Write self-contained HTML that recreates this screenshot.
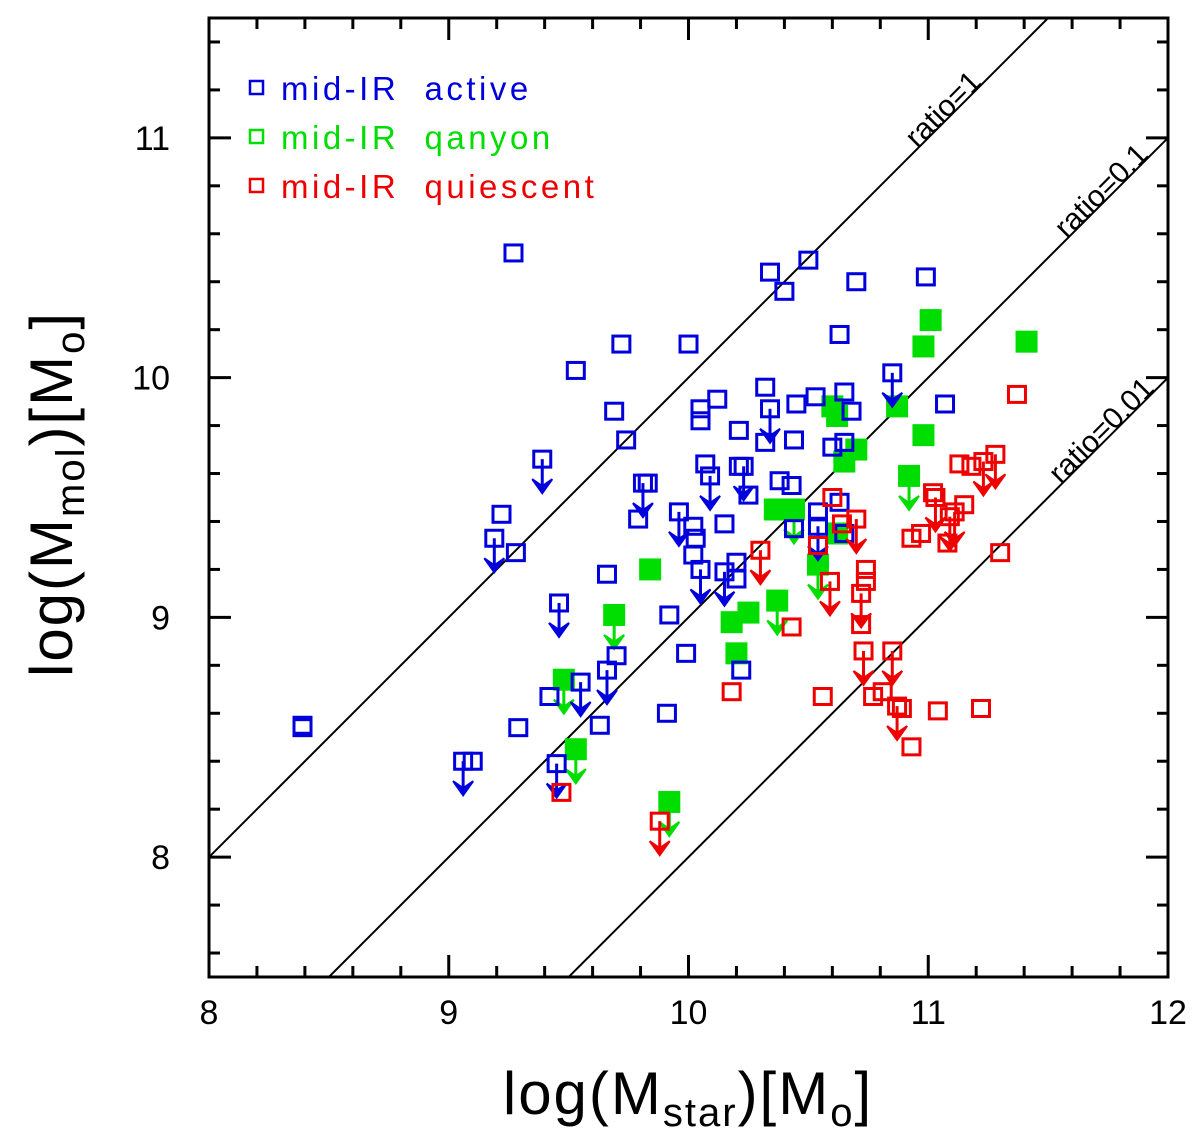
<!DOCTYPE html>
<html><head><meta charset="utf-8"><style>
html,body{margin:0;padding:0;background:#fff;overflow:hidden;width:1200px;height:1140px;}
svg{display:block;font-family:"Liberation Sans","DejaVu Sans",sans-serif;}
</style></head><body>
<svg id="chart" width="1200" height="1140" viewBox="0 0 1200 1140" xmlns="http://www.w3.org/2000/svg"></svg>
<script>
// ---- data (log M_star, log M_mol, upper-limit flag) ----
const activeX = [8.39,9.27,9.72,10.00,9.53,9.69,9.74,9.39,9.22,9.19,9.28,10.12,10.05,10.05,9.81,9.83,9.79,10.07,10.09,9.96,10.02,10.03,10.15,10.02,10.05,10.15,10.20,9.66,9.46,9.92,9.70,9.66,9.99,9.55,9.42,9.29,9.63,9.91,8.39,9.06,9.10,9.45,10.21,10.21,10.22,10.50,10.34,10.40,10.70,10.99,10.63,10.85,11.07,10.32,10.34,10.45,10.53,10.65,10.68,10.32,10.44,10.65,10.60,10.23,10.25,10.38,10.43,10.63,10.54,10.54,10.44,10.65,10.20];
const activeY = [8.55,10.52,10.14,10.14,10.03,9.86,9.74,9.66,9.43,9.33,9.27,9.91,9.87,9.82,9.56,9.56,9.41,9.64,9.59,9.44,9.38,9.33,9.39,9.26,9.20,9.19,9.23,9.18,9.06,9.01,8.84,8.78,8.85,8.73,8.67,8.54,8.55,8.60,8.54,8.40,8.40,8.39,9.78,9.63,8.78,10.49,10.44,10.36,10.40,10.42,10.18,10.02,9.89,9.96,9.87,9.89,9.92,9.94,9.86,9.73,9.74,9.73,9.71,9.63,9.51,9.57,9.55,9.48,9.44,9.38,9.37,9.35,9.16];
const activeLim = [0,0,0,0,0,0,0,1,0,1,0,0,0,0,1,0,0,0,1,1,0,0,0,0,1,1,0,0,1,0,0,1,0,1,0,0,0,0,0,1,0,1,0,0,0,0,0,0,0,0,0,1,0,0,1,0,0,0,0,0,0,0,0,1,0,0,0,0,0,1,0,0,0];
const gangX = [11.01,10.98,11.41,10.87,10.60,10.62,10.70,10.65,10.98,10.92,10.36,10.44,10.62,10.54,10.37,10.25,10.18,10.20,9.84,9.69,9.48,9.53,9.92];
const gangY = [10.24,10.13,10.15,9.88,9.88,9.84,9.70,9.65,9.76,9.59,9.45,9.45,9.35,9.22,9.07,9.02,8.98,8.85,9.20,9.01,8.74,8.45,8.23];
const gangLim = [0,0,0,0,0,0,0,0,0,1,0,1,0,1,1,0,0,0,0,1,1,1,1];
const quiX = [11.37,11.13,11.18,11.23,11.28,11.02,11.03,11.15,11.11,11.09,11.08,10.93,10.97,10.60,10.70,10.64,10.54,10.30,10.59,10.74,10.74,10.72,10.72,10.43,10.18,10.56,10.73,10.85,10.77,10.81,10.87,10.89,10.93,11.04,11.22,11.30,9.47,9.88];
const quiY = [9.93,9.64,9.63,9.65,9.68,9.52,9.50,9.47,9.44,9.42,9.31,9.33,9.35,9.50,9.41,9.39,9.30,9.28,9.15,9.20,9.15,9.10,8.97,8.96,8.69,8.67,8.86,8.86,8.67,8.69,8.63,8.62,8.46,8.61,8.62,9.27,8.27,8.15];
const quiLim = [0,0,0,1,1,0,1,0,1,1,0,0,0,0,1,0,0,1,1,0,0,1,0,0,0,0,1,1,0,0,1,0,0,0,0,0,0,1];
const xTicks = [8,9,10,11,12];
const yTicks = [8,9,10,11];
const ratios = [1,0.1,0.01];
const ratioLabels = ["ratio=1","ratio=0.1","ratio=0.01"];
const ratioLabelX = [11.07,11.73,11.73];

const NS="http://www.w3.org/2000/svg";
const svg=document.getElementById('chart');
const X0=209,X1=1168,Y0=977,Y1=18;
const xMin=8,xMax=12,yMin=7.5,yMax=11.5;
function sx(v){return X0+(v-xMin)/(xMax-xMin)*(X1-X0);}
function sy(v){return Y0-(v-yMin)/(yMax-yMin)*(Y0-Y1);}
function mk(tag,attrs,parent){const e=document.createElementNS(NS,tag);for(const k in attrs)e.setAttribute(k,attrs[k]);(parent||svg).appendChild(e);return e;}

const defs=mk('defs',{});
const cp=mk('clipPath',{id:'plotclip'},defs);
mk('rect',{x:X0,y:Y1,width:X1-X0,height:Y0-Y1},cp);

const linesG=mk('g',{'clip-path':'url(#plotclip)'});


ratios.forEach((r,i)=>{
  const off=Math.log10(r);
  const l=mk('line',{x1:sx(7),y1:sy(7+off),x2:sx(13),y2:sy(13+off),stroke:'#000','stroke-width':2},linesG);
  
  
});
ratioLabels.forEach((t,i)=>{
  const off=Math.log10(ratios[i]);
  const xv=ratioLabelX[i];
  const ang=-Math.atan2(sy(0)-sy(1),sx(1)-sx(0))*180/Math.PI;
  const px=sx(xv)+5, py=sy(xv+off)-5;
  const tx=mk('text',{x:px,y:py,'font-size':30,fill:'#000','text-anchor':'middle',transform:`rotate(${ang} ${px} ${py})`});
  tx.textContent=t;
  
  
});

const ptsG=mk('g',{'clip-path':'url(#plotclip)'});


function arrow(px,py,col){
  const g=mk('g',{},ptsG);
  mk('line',{x1:px,y1:py,x2:px,y2:py+32,stroke:col,'stroke-width':3},g);
  mk('path',{d:`M${px-10},${py+20} L${px},${py+34} L${px+10},${py+20} L${px},${py+27} Z`,fill:col,stroke:col,'stroke-width':2},g);
  
  
}
function series(xs,ys,lims,col,filled,name){
  xs.forEach((v,i)=>{
    const px=sx(v),py=sy(ys[i]);
    if(lims[i])arrow(px,py,col);
    let r;
    if(filled){r=mk('rect',{x:px-11,y:py-11,width:22,height:22,fill:col},ptsG);}
    else{r=mk('rect',{x:px-8.5,y:py-8,width:17,height:16,fill:'none',stroke:col,'stroke-width':3},ptsG);}
    
    
  });
}
series(gangX,gangY,gangLim,'#00dd00',true,'ganyon');
series(activeX,activeY,activeLim,'#0000dd',false,'active');
series(quiX,quiY,quiLim,'#ee0000',false,'quiescent');

const fr=mk('rect',{x:X0,y:Y1,width:X1-X0,height:Y0-Y1,fill:'none',stroke:'#000','stroke-width':3});


const tg=mk('g',{stroke:'#000','stroke-width':3});


for(let v=8;v<=12.001;v+=0.2){
  const major=Math.abs(v-Math.round(v))<1e-6;const L=major?22:11;const px=sx(v);
  mk('line',{x1:px,y1:Y0,x2:px,y2:Y0-L},tg);mk('line',{x1:px,y1:Y1,x2:px,y2:Y1+L},tg);
}
for(let v=7.6;v<=11.41;v+=0.2){
  const major=Math.abs(v-Math.round(v))<1e-6;const L=major?22:11;const py=sy(v);
  mk('line',{x1:X0,y1:py,x2:X0+L,y2:py},tg);mk('line',{x1:X1,y1:py,x2:X1-L,y2:py},tg);
}
xTicks.forEach(v=>{const t=mk('text',{x:sx(v),y:1024,'font-size':34,'text-anchor':'middle',fill:'#000'});t.textContent=v;
  
  });
yTicks.forEach(v=>{const t=mk('text',{x:170,y:sy(v)+12,'font-size':34,'text-anchor':'end',fill:'#000'});t.textContent=v;
  
  });

const leg=[['mid-IR  active','#0000dd'],['mid-IR  qanyon','#00dd00'],['mid-IR  quiescent','#ee0000']];
leg.forEach((d,i)=>{
  const y=88+i*49;
  const g=mk('g',{});
  
  
  mk('rect',{x:250,y:y-7,width:13,height:13,fill:'none',stroke:d[1],'stroke-width':2.5},g);
  const t=mk('text',{x:281,y:y+12,'font-size':33,fill:d[1],'letter-spacing':3.5},g);t.textContent=d[0];
  t.style.whiteSpace='pre';
});

const xt=mk('text',{x:688,y:1114,'font-size':60,fill:'#000','text-anchor':'middle','letter-spacing':2});
xt.innerHTML='log(M<tspan font-size="40" dy="12">star</tspan><tspan dy="-12">)[M</tspan><tspan font-size="40" dy="12">o</tspan><tspan dy="-12">]</tspan>';


const yt=mk('text',{x:0,y:0,'font-size':60,fill:'#000','text-anchor':'middle','letter-spacing':2,transform:'translate(72,494) rotate(-90)'});
yt.innerHTML='log(M<tspan font-size="40" dy="12">mol</tspan><tspan dy="-12">)[M</tspan><tspan font-size="40" dy="12">o</tspan><tspan dy="-12">]</tspan>';


</script>
</body></html>
